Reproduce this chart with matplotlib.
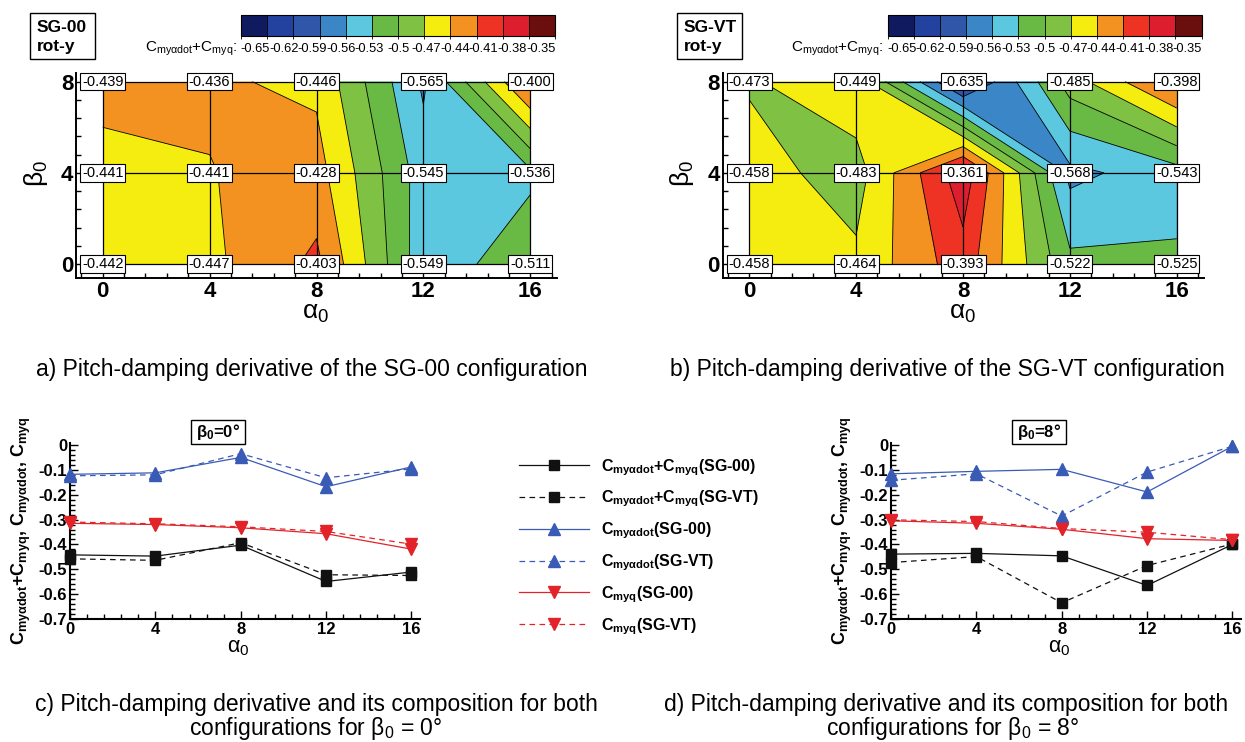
import numpy as np
import matplotlib
matplotlib.use("Agg")
import matplotlib.pyplot as plt
from matplotlib.colors import ListedColormap, BoundaryNorm
from matplotlib.collections import PolyCollection, LineCollection
from matplotlib.patches import Rectangle
from matplotlib.ticker import MultipleLocator, FuncFormatter
import matplotlib.colorbar as mcolorbar

plt.rcParams['font.family'] = ['Liberation Sans', 'DejaVu Sans']
plt.rcParams['mathtext.default'] = 'regular'
plt.rcParams['mathtext.fontset'] = 'custom'
plt.rcParams['mathtext.rm'] = 'Liberation Sans'
plt.rcParams['mathtext.it'] = 'Liberation Sans:italic'
plt.rcParams['mathtext.bf'] = 'Liberation Sans:bold'
plt.rcParams['axes.unicode_minus'] = False

# ---------------------------------------------------------------- data
alpha0 = [0, 4, 8, 12, 16]
beta0 = [0, 4, 8]

# C_my,alpha-dot + C_my,q ; rows are beta0 = 0, 4, 8
sg00_total = [[-0.442, -0.447, -0.403, -0.549, -0.511],
              [-0.441, -0.441, -0.428, -0.545, -0.536],
              [-0.439, -0.436, -0.446, -0.565, -0.400]]
sgvt_total = [[-0.458, -0.464, -0.393, -0.522, -0.525],
              [-0.458, -0.483, -0.361, -0.568, -0.543],
              [-0.473, -0.449, -0.635, -0.485, -0.398]]

levels = [-0.65, -0.62, -0.59, -0.56, -0.53, -0.50, -0.47, -0.44, -0.41, -0.38, -0.35]
level_labels = ["-0.65", "-0.62", "-0.59", "-0.56", "-0.53", "-0.5",
                "-0.47", "-0.44", "-0.41", "-0.38", "-0.35"]
band_colors = ["#0f1b5e", "#2342a0", "#2f56a8", "#3b86c6", "#5bc8e0", "#69b945",
               "#7fc243", "#f5ec10", "#f39121", "#ee3325", "#dc1e2e", "#6b0e0e"]

# beta0 = 0 deg
b0_total_sg00 = [-0.442, -0.447, -0.403, -0.549, -0.511]
b0_total_sgvt = [-0.458, -0.464, -0.393, -0.522, -0.525]
b0_adot_sg00 = [-0.118, -0.112, -0.050, -0.168, -0.088]
b0_adot_sgvt = [-0.124, -0.120, -0.035, -0.132, -0.096]
b0_q_sg00 = [-0.315, -0.320, -0.333, -0.357, -0.419]
b0_q_sgvt = [-0.310, -0.317, -0.329, -0.348, -0.399]

# beta0 = 8 deg
b8_total_sg00 = [-0.439, -0.436, -0.446, -0.565, -0.400]
b8_total_sgvt = [-0.473, -0.449, -0.635, -0.485, -0.398]
b8_adot_sg00 = [-0.116, -0.106, -0.098, -0.189, -0.005]
b8_adot_sgvt = [-0.142, -0.116, -0.286, -0.109, -0.005]
b8_q_sg00 = [-0.305, -0.315, -0.339, -0.377, -0.384]
b8_q_sgvt = [-0.301, -0.308, -0.336, -0.351, -0.381]

# ---------------------------------------------------------------- helpers
W, H = 1245, 742
fig = plt.figure(figsize=(W / 100, H / 100), dpi=100)


def px_rect(x0, y0, x1, y1):
    return [x0 / W, 1 - y1 / H, (x1 - x0) / W, (y1 - y0) / H]


def ftext(x, y, s, **kw):
    kw.setdefault('ha', 'center')
    kw.setdefault('va', 'center')
    return fig.text(x / W, 1 - y / H, s, **kw)


def fbox(x0, y0, x1, y1, lw=1.0):
    fig.patches.append(Rectangle((x0 / W, 1 - y1 / H), (x1 - x0) / W, (y1 - y0) / H,
                                 transform=fig.transFigure, fc='white', ec='black',
                                 lw=lw, zorder=1))


def _cell(xs, ys, z, i, j):
    pts = [(xs[i], ys[j]), (xs[i + 1], ys[j]), (xs[i + 1], ys[j + 1]), (xs[i], ys[j + 1])]
    vals = [z[j][i], z[j][i + 1], z[j + 1][i + 1], z[j + 1][i]]
    return pts, vals


def _cross(pts, vals, lev, a, b):
    t = (lev - vals[a]) / (vals[b] - vals[a])
    return (pts[a][0] + t * (pts[b][0] - pts[a][0]), pts[a][1] + t * (pts[b][1] - pts[a][1]))


def superlevel_polys(xs, ys, z, lev):
    """Polygons of {z >= lev}, straight edges inside each quad cell."""
    polys = []
    for j in range(len(ys) - 1):
        for i in range(len(xs) - 1):
            pts, vals = _cell(xs, ys, z, i, j)
            hi = [v >= lev for v in vals]
            if not any(hi):
                continue
            if hi == [True, False, True, False]:
                polys.append([pts[0], _cross(pts, vals, lev, 0, 1), _cross(pts, vals, lev, 3, 0)])
                polys.append([pts[2], _cross(pts, vals, lev, 2, 3), _cross(pts, vals, lev, 1, 2)])
                continue
            ring = []
            for k in range(4):
                n = (k + 1) % 4
                if hi[k]:
                    ring.append(pts[k])
                if hi[k] != hi[n]:
                    ring.append(_cross(pts, vals, lev, k, n))
            polys.append(ring)
    return polys


def iso_segments(xs, ys, z, lev):
    segs = []
    for j in range(len(ys) - 1):
        for i in range(len(xs) - 1):
            pts, vals = _cell(xs, ys, z, i, j)
            hi = [v >= lev for v in vals]
            e = {}
            for k in range(4):
                n = (k + 1) % 4
                if hi[k] != hi[n]:
                    e[k] = _cross(pts, vals, lev, k, n)
            if len(e) == 2:
                segs.append(list(e.values()))
            elif len(e) == 4:
                segs.append([e[2], e[1]])
                segs.append([e[3], e[0]])
    return segs


def style_axis(ax, tick_size, spine_w=1.4, pad=2.5):
    for s in ('top', 'right'):
        ax.spines[s].set_visible(False)
    for s in ('left', 'bottom'):
        ax.spines[s].set_linewidth(spine_w)
    ax.tick_params(which='both', direction='in', width=1.0, top=False, right=False)
    ax.tick_params(which='major', length=6, pad=pad, labelsize=tick_size)
    ax.tick_params(which='minor', length=3.5)
    for lab in ax.get_xticklabels() + ax.get_yticklabels():
        lab.set_fontweight('bold')


# ---------------------------------------------------------------- contour panels
def contour_panel(dx, z, name):
    ax = fig.add_axes(px_rect(76 + dx, 73, 557 + dx, 278))
    ax.set_xlim(-1.0, 17.0)
    ax.set_ylim(-0.61, 8.38)
    lows = [-np.inf] + levels
    for k, lev in enumerate(lows):
        polys = superlevel_polys(alpha0, beta0, z, lev)
        if polys:
            ax.add_collection(PolyCollection(polys, facecolors=band_colors[k],
                                             edgecolors='none', linewidths=0, zorder=1))
    segs = []
    for lev in levels:
        segs += iso_segments(alpha0, beta0, z, lev)
    ax.add_collection(LineCollection(segs, colors='black', linewidths=0.6, zorder=2))
    ax.vlines(alpha0, beta0[0], beta0[-1], colors='black', lw=0.9, zorder=3)
    ax.hlines(beta0, alpha0[0], alpha0[-1], colors='black', lw=0.9, zorder=3)
    for j, b in enumerate(beta0):
        for i, a in enumerate(alpha0):
            ax.text(a, b, f"{z[j][i]:.3f}", ha='center', va='center', fontsize=10.5,
                    zorder=6, clip_on=False,
                    bbox=dict(boxstyle='square,pad=0.12', fc='white', ec='black', lw=0.8))
    ax.xaxis.set_major_locator(MultipleLocator(4))
    ax.xaxis.set_minor_locator(MultipleLocator(0.8))
    ax.yaxis.set_major_locator(MultipleLocator(4))
    ax.yaxis.set_minor_locator(MultipleLocator(0.8))
    ax.xaxis.set_major_formatter(FuncFormatter(lambda v, p: f"{v:.0f}"))
    ax.yaxis.set_major_formatter(FuncFormatter(lambda v, p: f"{v:.0f}"))
    style_axis(ax, 16, pad=2)
    ftext(36 + dx, 173, r"β$_0$", fontsize=19, rotation=90)
    ftext(316 + dx, 313, r"α$_0$", fontsize=19)

    # title box
    fbox(30 + dx, 13, 95 + dx, 59)
    ftext(37 + dx, 27, name, fontsize=12.5, fontweight='bold', ha='left')
    ftext(37 + dx, 46, "rot-y", fontsize=12.5, fontweight='bold', ha='left')

    # colour legend
    cx0, cx1 = 241 + dx, 555 + dx
    cax = fig.add_axes(px_rect(cx0, 15, cx1, 36))
    step = levels[1] - levels[0]
    bounds = [levels[0] - step] + levels + [levels[-1] + step]
    cb = mcolorbar.ColorbarBase(cax, cmap=ListedColormap(band_colors),
                                norm=BoundaryNorm(bounds, len(band_colors)),
                                orientation='horizontal', drawedges=True, spacing='uniform')
    cb.set_ticks([])
    cb.outline.set_linewidth(0.8)
    cb.dividers.set_linewidth(0.6)
    for k, lab in enumerate(level_labels):
        ftext(cx0 + (k + 0.5) * (cx1 - cx0) / len(level_labels), 49, lab, fontsize=9.3)
    ftext(cx0 - 4, 49, r"C$_{my\alpha dot}$+C$_{myq}$:", fontsize=11, ha='right')
    return ax


contour_panel(0, sg00_total, "SG-00")
contour_panel(646.5, sgvt_total, "SG-VT")

# ---------------------------------------------------------------- line panels
black, blue, red = "#111111", "#3a5bb5", "#e2232a"
dashed = (0, (4.5, 3.5))


def line_panel(x0, x1, tot00, totvt, ad00, advt, q00, qvt, beta_txt):
    ax = fig.add_axes(px_rect(x0, 443, x1, 619))
    ax.set_xlim(0, 16.4)
    ax.set_ylim(-0.7, 0.008)
    kw = dict(lw=0.9, clip_on=False, zorder=3)
    hs = []
    hs += ax.plot(alpha0, tot00, color=black, ls='-', marker='s', ms=7, **kw)
    hs += ax.plot(alpha0, totvt, color=black, ls=dashed, marker='s', ms=7, **kw)
    hs += ax.plot(alpha0, ad00, color=blue, ls='-', marker='^', ms=8.5, **kw)
    hs += ax.plot(alpha0, advt, color=blue, ls=dashed, marker='^', ms=8.5, **kw)
    hs += ax.plot(alpha0, q00, color=red, ls='-', marker='v', ms=8.5, **kw)
    hs += ax.plot(alpha0, qvt, color=red, ls=dashed, marker='v', ms=8.5, **kw)
    ax.xaxis.set_major_locator(MultipleLocator(4))
    ax.xaxis.set_minor_locator(MultipleLocator(0.8))
    ax.yaxis.set_major_locator(MultipleLocator(0.1))
    ax.yaxis.set_minor_locator(MultipleLocator(0.02))
    ax.xaxis.set_major_formatter(FuncFormatter(lambda v, p: f"{v:.0f}"))
    ax.yaxis.set_major_formatter(FuncFormatter(lambda v, p: "0" if abs(v) < 1e-9 else f"{v:.1f}"))
    style_axis(ax, 12, spine_w=1.5, pad=2)
    ftext(x0 - 49, 531, r"C$_{my\alpha dot}$+C$_{myq}$, C$_{my\alpha dot}$, C$_{myq}$",
          fontsize=13, fontweight='bold', rotation=90)
    ftext(x0 + 168, 648, r"α$_0$", fontsize=15.5)
    bx = x0 + 148
    fbox(bx - 27, 420, bx + 27, 444)
    ftext(bx, 432, beta_txt, fontsize=12, fontweight='bold')
    return ax, hs


axc, handles = line_panel(70, 420, b0_total_sg00, b0_total_sgvt, b0_adot_sg00,
                          b0_adot_sgvt, b0_q_sg00, b0_q_sgvt, r"β$_0$=0°")
line_panel(891, 1241, b8_total_sg00, b8_total_sgvt, b8_adot_sg00,
           b8_adot_sgvt, b8_q_sg00, b8_q_sgvt, r"β$_0$=8°")

legend_labels = [r"C$_{my\alpha dot}$+C$_{myq}$(SG-00)",
                 r"C$_{my\alpha dot}$+C$_{myq}$(SG-VT)",
                 r"C$_{my\alpha dot}$(SG-00)",
                 r"C$_{my\alpha dot}$(SG-VT)",
                 r"C$_{myq}$(SG-00)",
                 r"C$_{myq}$(SG-VT)"]
fig.legend(handles, legend_labels, loc='upper left', bbox_to_anchor=(519 / W, 1 - 457 / H),
           frameon=False, prop={'weight': 'bold', 'size': 11.5}, handlelength=4.4,
           handletextpad=0.75, labelspacing=0.7, borderpad=0, borderaxespad=0)

# ---------------------------------------------------------------- captions
cap = dict(fontsize=16.5)
ftext(312, 370, "a) Pitch-damping derivative of the SG-00 configuration", **cap)
ftext(947, 370, "b) Pitch-damping derivative of the SG-VT configuration", **cap)
ftext(316, 705, "c) Pitch-damping derivative and its composition for both", **cap)
ftext(316, 728, r"configurations for β$_0$ = 0°", **cap)
ftext(946, 705, "d) Pitch-damping derivative and its composition for both", **cap)
ftext(953, 728, r"configurations for β$_0$ = 8°", **cap)

fig.savefig("out.png", dpi=100)
